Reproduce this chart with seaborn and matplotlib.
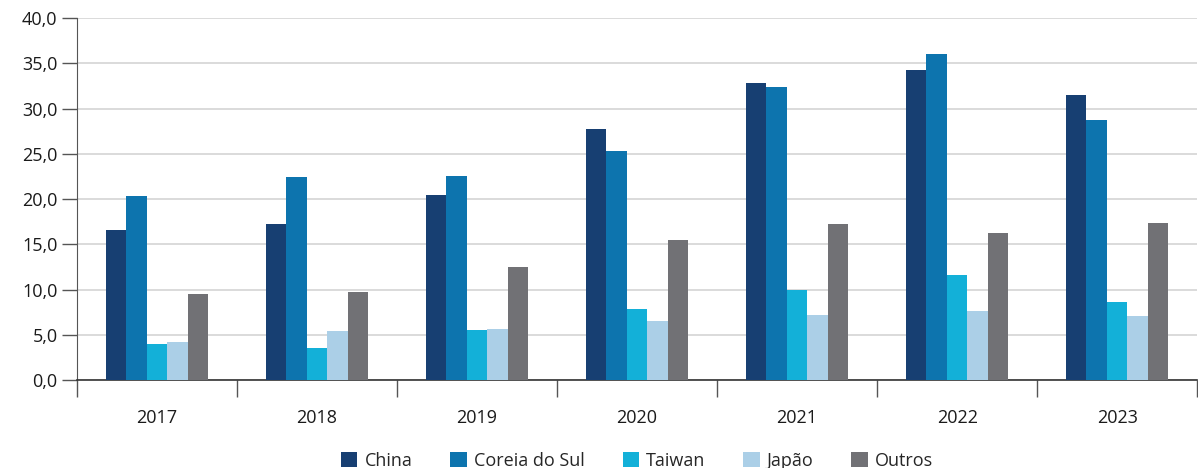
import pandas as pd
import numpy as np
import matplotlib.pyplot as plt
import seaborn as sns
from matplotlib.ticker import FuncFormatter

anos = ['2017', '2018', '2019', '2020', '2021', '2022', '2023']
paises = ['China', 'Coreia do Sul', 'Taiwan', 'Japão', 'Outros']

china = [16.6, 17.2, 20.4, 27.7, 32.8, 34.3, 31.5]
coreia = [20.3, 22.4, 22.5, 25.3, 32.4, 36.0, 28.7]
taiwan = [4.0, 3.5, 5.5, 7.8, 10.0, 11.6, 8.6]
japao = [4.2, 5.4, 5.6, 6.5, 7.2, 7.6, 7.1]
outros = [9.5, 9.7, 12.5, 15.5, 17.2, 16.2, 17.3]

cores = ['#173f72', '#0d74ae', '#13b0d8', '#abcfe7', '#717175']

# long format for seaborn
df = pd.DataFrame({'ano': anos, 'China': china, 'Coreia do Sul': coreia,
                   'Taiwan': taiwan, 'Japão': japao, 'Outros': outros})
df = df.melt(id_vars='ano', var_name='pais', value_name='valor')

sns.set_style('white')
plt.rcParams['font.family'] = ['Open Sans', 'DejaVu Sans']

fig = plt.figure(figsize=(11.98, 4.68), dpi=100)
ax = fig.add_axes([0.0643, 0.188, 0.935, 0.7735])

sns.barplot(data=df, x='ano', y='valor', hue='pais', hue_order=paises,
            palette=cores, width=0.64, gap=0, saturation=1, linewidth=0,
            ax=ax, zorder=3)

ax.set_ylim(0, 40)
ax.set_xlim(-0.5, 6.5)
ax.set_yticks(np.arange(0, 41, 5))
ax.yaxis.set_major_formatter(FuncFormatter(lambda v, p: f'{v:.1f}'.replace('.', ',')))
ax.grid(axis='y', color='#d4d4d4', linewidth=1.2, zorder=0)
ax.set_axisbelow(True)

ax.set_xticks(np.arange(-0.5, 7, 1), minor=True)
ax.tick_params(axis='x', which='major', length=0, pad=21, labelsize=13, colors='#1a1a1a')
ax.tick_params(axis='x', which='minor', bottom=True, length=12, width=1,
               color='#555555', direction='out')
ax.tick_params(axis='y', length=11, width=1, color='#555555', labelsize=13,
               labelcolor='#1a1a1a', pad=3, left=True)

for s in ['top', 'right']:
    ax.spines[s].set_visible(False)
ax.spines['left'].set_color('#555555')
ax.spines['bottom'].set_color('#333333')
ax.spines['bottom'].set_linewidth(1.2)

ax.set_xlabel('')
ax.set_ylabel('')

ax.legend(loc='lower center', bbox_to_anchor=(0.5, -0.293), ncol=5, frameon=False,
          fontsize=13, handlelength=0.9, handleheight=0.9, handletextpad=0.4,
          columnspacing=2.1)

plt.savefig('out.png', dpi=100)
